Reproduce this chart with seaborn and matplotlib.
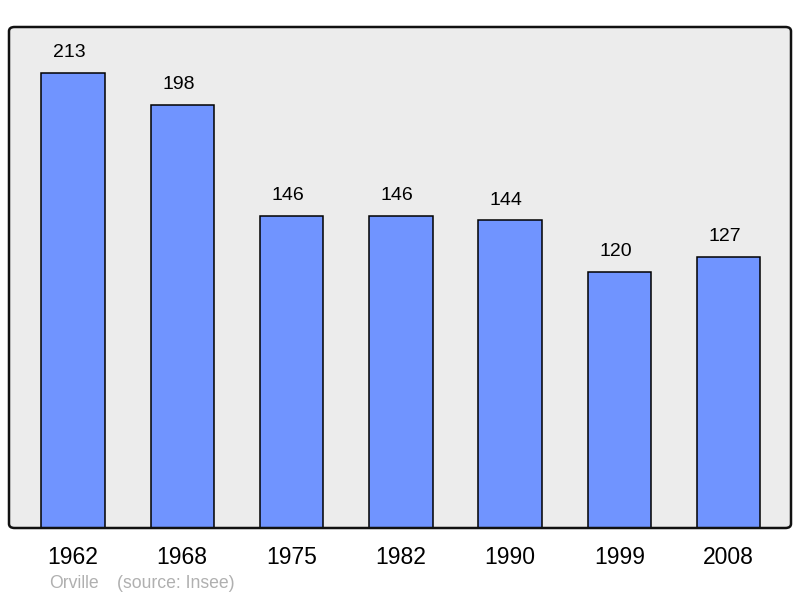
import matplotlib
matplotlib.use("Agg")
import matplotlib.pyplot as plt
import seaborn as sns
import pandas as pd
from matplotlib.patches import FancyBboxPatch

years = ["1962", "1968", "1975", "1982", "1990", "1999", "2008"]
population = [213, 198, 146, 146, 144, 120, 127]
commune = "Orville"
source = "(source: Insee)"

df = pd.DataFrame({"year": years, "pop": population})

sns.set_style("white")
plt.rcParams["font.family"] = ["Liberation Sans", "DejaVu Sans"]

W, H = 800, 598
fig = plt.figure(figsize=(8, 5.98), dpi=100)
ax = fig.add_axes([9/W, 1 - 528/H, 782/W, 501/H])
ax.patch.set_visible(False)

frame = FancyBboxPatch((9/W, 1 - 528/H), 782/W, 501/H,
                       boxstyle="round,pad=0,rounding_size=0.007",
                       transform=fig.transFigure, facecolor="#ececec",
                       edgecolor="none", zorder=-5, clip_on=False)
ax.add_patch(frame)

sns.barplot(data=df, x="year", y="pop", color="#7094ff", saturation=1,
            width=0.58, edgecolor="black", linewidth=1.1, ax=ax, zorder=2)

ax.set_xlim(-0.585, 6.57)
ax.set_ylim(0, 234.5)
for i, v in enumerate(population):
    ax.annotate(str(v), (i, v), xytext=(-2.8, 11.3), textcoords="offset points",
                ha="center", va="baseline", fontsize=14, color="black")

ax.set_yticks([])
ax.set_xlabel("")
ax.set_ylabel("")
ax.tick_params(axis="x", length=0, pad=13, labelsize=16.5, labelcolor="black")
for s in ax.spines.values():
    s.set_visible(False)

border = FancyBboxPatch((9/W, 1 - 528/H), 782/W, 501/H,
                        boxstyle="round,pad=0,rounding_size=0.007",
                        transform=fig.transFigure, facecolor="none",
                        edgecolor="#111111", linewidth=1.8, zorder=5, clip_on=False)
ax.add_patch(border)

fig.text(49/W, 1 - 584/H, commune, fontsize=12.7, color="#b0b0b0", va="center", ha="left")
fig.text(117/W, 1 - 584/H, source, fontsize=12.7, color="#b0b0b0", va="center", ha="left")

fig.savefig("out.png", dpi=100)
